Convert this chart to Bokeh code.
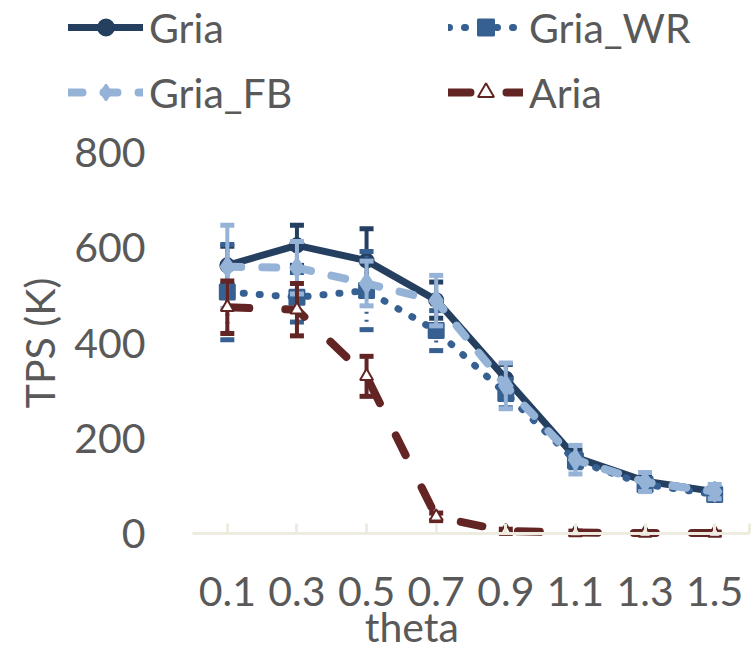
from bokeh.plotting import figure
from bokeh.models import Range1d, FixedTicker, Legend, LegendItem, Label
from bokeh.embed import file_html
from bokeh.resources import INLINE

theta = ["0.1", "0.3", "0.5", "0.7", "0.9", "1.1", "1.3", "1.5"]
gria = [563, 605, 573, 490, 325, 160, 110, 88]
gria_err = [40, 42, 67, 38, 30, 15, 10, 8]
gria_wr = [507, 496, 510, 426, 294, 153, 103, 82]
gria_wr_err = [100, 52, 82, 42, 30, 15, 10, 8]
gria_fb = [560, 558, 525, 489, 310, 155, 108, 88]
gria_fb_err = [87, 55, 47, 53, 48, 30, 20, 15]
aria = [475, 470, 330, 35, 5, 2, 1, 1]
aria_err = [55, 55, 42, 8, 4, 3, 2, 2]
y_ticks = [0, 200, 400, 600, 800]

FONT = "Lato"
FS = "41px"
TXT = "#595959"

STYLES = {
    "Gria": dict(color="#243F60", dash="solid", marker="circle", msize=14, fill="#243F60", lw=7, err_dash="solid"),
    "Gria_WR": dict(color="#376092", dash="1 15", marker="square", msize=15, fill="#376092", lw=7, err_dash="2 6"),
    "Gria_FB": dict(color="#95B3D7", dash="14 21", marker="diamond", msize=20, fill="#95B3D7", lw=8, err_dash="solid"),
    "Aria": dict(color="#632523", dash="22 36", marker="triangle", msize=13, fill="white", lw=8, err_dash="solid"),
}

xs = list(range(len(theta)))
n = len(theta)

# Figure covers the page; frame is the whole figure, axes are pinned with fixed_location.
W, H = 753, 650
PX_X = 69.625      # pixels per category
PX_Y = 0.47625     # pixels per TPS unit
AX_LEFT = 192      # x of the first category edge (-0.5), in figure pixels
AX_ZERO = 533      # y of value 0, from the figure top, in pixels

x0 = -0.5 - AX_LEFT / PX_X
x1 = x0 + W / PX_X
y1 = AX_ZERO / PX_Y
y0 = y1 - H / PX_Y

p = figure(width=W, height=H, output_backend="svg", toolbar_location=None, title=None,
           x_range=Range1d(x0, x1), y_range=Range1d(y0, y1),
           min_border=0)
p.outline_line_color = None
p.grid.visible = False

p.xaxis.fixed_location = 0
p.xaxis.bounds = (-0.5, n - 0.5)
p.xaxis.ticker = FixedTicker(ticks=xs + [n - 0.5])
p.xaxis.major_label_overrides = {i: t for i, t in enumerate(theta)}
p.xaxis.major_label_overrides[n - 0.5] = ""
p.xaxis.axis_line_color = "#EEECE1"
p.xaxis.axis_line_width = 3
p.xaxis.major_tick_line_color = "#EEECE1"
p.xaxis.major_tick_line_width = 3
p.xaxis.major_tick_in = 10
p.xaxis.major_tick_out = 0
p.xaxis.minor_tick_line_color = None
p.xaxis.major_label_standoff = 43
p.xaxis.major_label_text_font = FONT
p.xaxis.major_label_text_font_size = FS
p.xaxis.major_label_text_color = TXT

p.yaxis.fixed_location = -0.5
p.yaxis.bounds = (0, 800)
p.yaxis.ticker = FixedTicker(ticks=y_ticks)
p.yaxis.axis_line_color = None
p.yaxis.major_tick_line_color = None
p.yaxis.major_tick_in = 0
p.yaxis.major_tick_out = 0
p.yaxis.minor_tick_line_color = None
p.yaxis.major_label_standoff = 47
p.yaxis.major_label_text_font = FONT
p.yaxis.major_label_text_font_size = FS
p.yaxis.major_label_text_color = TXT
p.yaxis.axis_label = "TPS (K)"
p.yaxis.axis_label_text_font = FONT
p.yaxis.axis_label_text_font_size = FS
p.yaxis.axis_label_text_font_style = "normal"
p.yaxis.axis_label_text_color = TXT
p.yaxis.axis_label_standoff = 7

p.add_layout(Label(x=2.65, y=-195, text="theta", text_font=FONT, text_font_size=FS,
                   text_color=TXT, text_align="center", text_baseline="middle"))


def series(vals, errs, s):
    lo = [v - e for v, e in zip(vals, errs)]
    hi = [v + e for v, e in zip(vals, errs)]
    p.segment(x0=xs, y0=lo, x1=xs, y1=hi, line_color=s["color"], line_width=4, line_dash=s["err_dash"])
    p.scatter(x=xs + xs, y=lo + hi, marker="dash", size=14, line_color=s["color"], line_width=5)
    ln = p.line(xs, vals, line_color=s["color"], line_width=s["lw"], line_dash=s["dash"],
                line_cap="round", line_join="round")
    mk = p.scatter(xs, vals, marker=s["marker"], size=s["msize"], fill_color=s["fill"],
                   line_color=s["color"], line_width=2)
    return [ln, mk]


R = {
    "Gria": series(gria, gria_err, STYLES["Gria"]),
    "Gria_WR": series(gria_wr, gria_wr_err, STYLES["Gria_WR"]),
    "Gria_FB": series(gria_fb, gria_fb_err, STYLES["Gria_FB"]),
    "Aria": series(aria, aria_err, STYLES["Aria"]),
}


def make_legend(names, x):
    lg = Legend(items=[LegendItem(label=nm, renderers=R[nm]) for nm in names],
                location=(x, H - 117), orientation="vertical",
                label_text_font=FONT, label_text_font_size=FS, label_text_color=TXT,
                glyph_width=75, glyph_height=40, label_height=50, label_standoff=6, spacing=15,
                padding=0, margin=0, border_line_color=None, background_fill_alpha=0)
    p.add_layout(lg, "center")


make_legend(["Gria", "Gria_FB"], 68)
make_legend(["Gria_WR", "Aria"], 448)

open("out.html", "w").write(file_html(p, INLINE))
